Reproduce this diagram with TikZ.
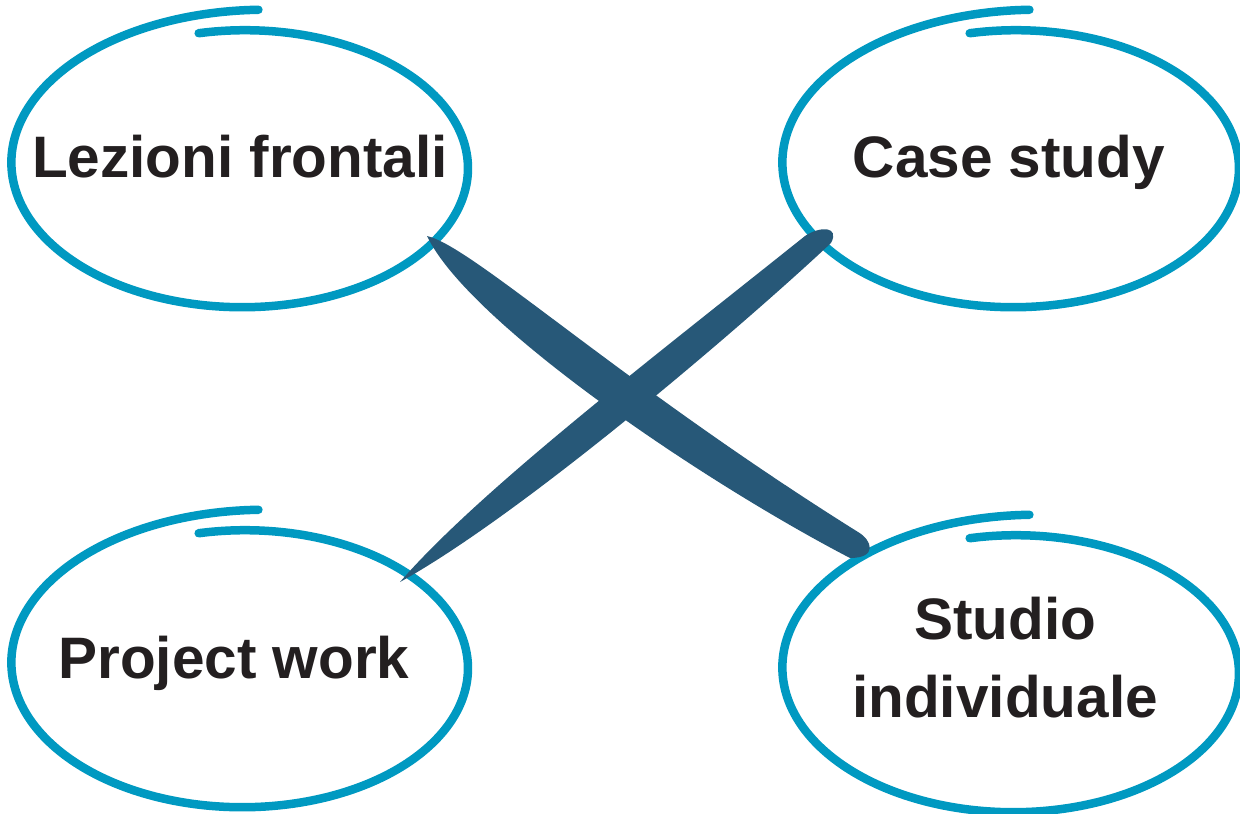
\documentclass[tikz,border=0pt]{standalone}
\usepackage{fontspec}
\setmainfont{Liberation Sans}
\usepackage{tikz}
\definecolor{loopcyan}{HTML}{0099C1}
\definecolor{crossblue}{HTML}{275878}
\definecolor{textdark}{HTML}{231F20}
\newcommand{\handloop}[1]{%
  \draw[loopline, shift={#1}] plot[domain=-273:102, samples=140, smooth]
    ({222.8*(1+0.15*((102-\x)/375)^4)*cos(\x)}, {-137.8*(1+0.15*((102-\x)/375)^4)*sin(\x)});}

\begin{document}
\begin{tikzpicture}[x=1pt, y=-1pt,
    loopline/.style={loopcyan, line width=8.5pt, line cap=round},
    label/.style={textdark, font=\fontsize{58.5}{78}\selectfont\bfseries, inner sep=0pt}]
    \useasboundingbox (0,0) rectangle (1240,814);
    \fill[white] (0,0) rectangle (1240,814);

    \handloop{(245,168)}
    \handloop{(1016,168)}
    \handloop{(245,668)}
    \handloop{(1016,673)}

    \node[label, anchor=base] (lezioni) at (240,177) {Lezioni frontali};
    \node[label, anchor=base] (casestudy) at (1009,177) {Case study};
    \node[label, anchor=base] (project) at (234,678) {Project work};
    \node[label, align=center] (studio) at (1005,658) {Studio\\individuale};

    \fill[crossblue] (427,236) .. controls (472,246) and (620,383) .. (858,532)
        .. controls (872,540) and (878,558) .. (850,558)
        .. controls (700,480) and (468,322) .. (427,236) -- cycle;
    \fill[crossblue] (400,582) .. controls (480,490) and (650,360) .. (805,236)
        .. controls (820,226) and (840,226) .. (831,243)
        .. controls (760,310) and (530,510) .. (400,582) -- cycle;
\end{tikzpicture}
\end{document}
